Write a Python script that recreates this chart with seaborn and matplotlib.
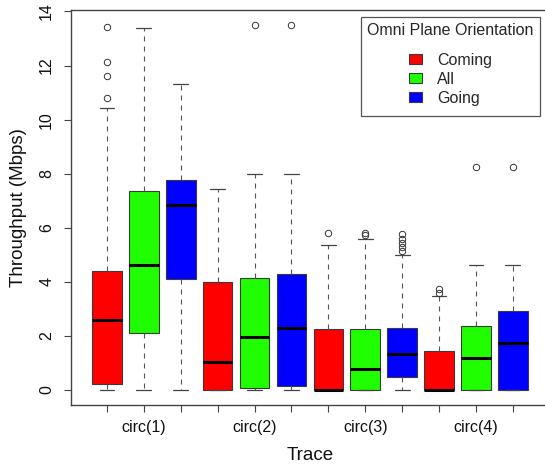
import matplotlib
matplotlib.use("Agg")
import matplotlib.pyplot as plt
from matplotlib.patches import Patch
import seaborn as sns
import numpy as np

# ---- data ----
traces = ["circ(1)", "circ(2)", "circ(3)", "circ(4)"]
orientations = ["Coming", "All", "Going"]
colors = ["#FF0000", "#20FF00", "#0000FF"]

# box statistics, ordered trace by trace, Coming / All / Going
whislo = [0, 0, 0, 0, 0, 0, 0, 0, 0, 0, 0, 0]
q1 = [0.22, 2.12, 4.10, 0.0, 0.06, 0.16, 0.0, 0.0, 0.47, 0.0, 0.0, 0.0]
med = [2.59, 4.63, 6.83, 1.02, 1.97, 2.30, 0.0, 0.76, 1.33, 0.0, 1.19, 1.75]
q3 = [4.41, 7.35, 7.76, 3.98, 4.13, 4.30, 2.24, 2.25, 2.29, 1.43, 2.35, 2.92]
whishi = [10.43, 13.40, 11.30, 7.42, 7.98, 7.98, 5.36, 5.60, 5.01, 3.47, 4.61, 4.61]
fliers = [
    [10.81, 11.61, 12.12, 13.42], [], [],
    [], [13.51], [13.51],
    [5.81], [5.72, 5.80], [5.15, 5.30, 5.45, 5.60, 5.76],
    [3.60, 3.74], [8.25], [8.25],
]
yticks = [0, 2, 4, 6, 8, 10, 12, 14]

sns.set_theme(style="ticks")
plt.rcParams["font.family"] = ["Liberation Sans", "DejaVu Sans"]

W, H = 545, 469
fig = plt.figure(figsize=(W / 100, H / 100), dpi=100)
ax_l, ax_r, ax_t, ax_b = 70.8, 549.0, 10.4, 404.6
ax = fig.add_axes([ax_l / W, 1 - ax_b / H, (ax_r - ax_l) / W, (ax_b - ax_t) / H])

stats = []
for i in range(len(q1)):
    stats.append(dict(whislo=whislo[i], q1=q1[i], med=med[i], q3=q3[i],
                      whishi=whishi[i], fliers=fliers[i]))
positions = np.arange(1, len(stats) + 1)
edge = "#3a3a3a"
bp = ax.bxp(
    stats, positions=positions, widths=0.8, patch_artist=True,
    showfliers=True, capwidths=0.4,
    boxprops=dict(edgecolor=edge, linewidth=0.8),
    medianprops=dict(color="black", linewidth=2.2, solid_capstyle="butt"),
    whiskerprops=dict(color="#555555", linewidth=0.8, linestyle=(0, (4.5, 4.5))),
    capprops=dict(color="#444444", linewidth=0.9),
    flierprops=dict(marker="o", markersize=4.6, markerfacecolor="none",
                    markeredgecolor="#333333", markeredgewidth=0.7),
)
for k, patch in enumerate(bp["boxes"]):
    patch.set_facecolor(colors[k % 3])

ax.set_xlim(0.02, 12.98)
ax.set_ylim(-0.54, 14.04)
ax.set_xticks(positions)
ax.set_xticklabels(["", traces[0], "", "", traces[1], "", "", traces[2], "",
                    "", traces[3], ""], fontsize=11.5)
ax.set_yticks(yticks)
ax.set_yticklabels([str(v) for v in yticks], fontsize=11.5, rotation=90, va="center")
ax.tick_params(axis="both", length=5, width=0.8, color="#444444", labelcolor="#111111")
ax.tick_params(axis="y", pad=7)
ax.tick_params(axis="x", pad=6)
for s in ax.spines.values():
    s.set_visible(True)
    s.set_color("#444444")
    s.set_linewidth(1.0)

ax.set_xlabel("Trace", fontsize=13.5, color="#111111")
ax.set_ylabel("Throughput (Mbps)", fontsize=13.5, color="#111111")
ax.yaxis.set_label_coords((27 - ax_l) / (ax_r - ax_l), 0.5)
ax.xaxis.set_label_coords(0.5, (ax_b - 447) / (ax_b - ax_t))

handles = [Patch(facecolor=c, edgecolor=edge, linewidth=0.8, label=o)
           for c, o in zip(colors, orientations)]
leg = ax.legend(handles=handles, title="Omni Plane Orientation",
                loc="upper right", bbox_to_anchor=(540 / W, 1 - 17 / H),
                bbox_transform=fig.transFigure, borderaxespad=0,
                fontsize=11.5, title_fontsize=11.5, frameon=True, fancybox=False,
                handlelength=0.85, handleheight=0.6, handletextpad=0.95,
                labelspacing=0.26, borderpad=0.4)
leg._legend_box.sep = 8
leg._legend_handle_box.pad = 2.3
leg.get_frame().set_edgecolor("#555555")
leg.get_frame().set_linewidth(0.9)
leg.get_frame().set_alpha(1)

fig.savefig("out.png", dpi=100)
